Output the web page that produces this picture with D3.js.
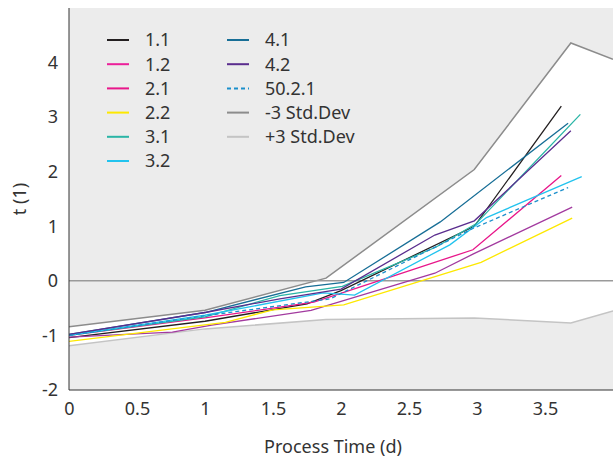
<!DOCTYPE html>
<html>
<head>
<meta charset="utf-8">
<script src="https://cdn.jsdelivr.net/npm/d3@7"></script>
<style>
  html, body { margin: 0; padding: 0; background: #fff; }
  svg text { font-family: "Noto Sans", sans-serif; fill: #333; }
</style>
</head>
<body>
<svg id="chart" width="613" height="460"></svg>
<script>
// ---- data ----
const seriesNames = ["1.1", "1.2", "2.1", "2.2", "3.1", "3.2", "4.1", "4.2", "50.2.1"];
const seriesX = [
  [0, 1, 1.75, 2.0, 2.98, 3.62],
  [0, 0.76, 1.05, 1.78, 2.69, 2.97, 3.70],
  [0, 1, 1.8, 2.02, 2.97, 3.62],
  [0, 1.15, 1.5, 2.02, 3.03, 3.70],
  [0, 1, 1.55, 2.01, 2.7, 2.99, 3.76],
  [0, 1, 1.87, 2.1, 2.8, 3.07, 3.77],
  [0, 1, 1.74, 2.02, 2.73, 3.67],
  [0, 1, 1.55, 2.0, 2.69, 2.98, 3.69],
  [0, 1, 1.92, 2.97, 3.67]
];
const seriesT = [
  [-1.04, -0.74, -0.42, -0.18, 1.00, 3.20],
  [-1.03, -0.94, -0.81, -0.54, 0.14, 0.49, 1.35],
  [-1.00, -0.68, -0.39, -0.21, 0.57, 1.93],
  [-1.11, -0.76, -0.53, -0.44, 0.34, 1.15],
  [-1.00, -0.66, -0.27, -0.10, 0.62, 1.04, 3.05],
  [-1.00, -0.63, -0.22, -0.26, 0.66, 1.16, 1.91],
  [-0.98, -0.58, -0.11, -0.03, 1.08, 2.89],
  [-0.98, -0.58, -0.33, -0.15, 0.84, 1.10, 2.75],
  [-1.00, -0.64, -0.33, 0.96, 1.71]
];
const stdX = [0, 1, 1.89, 2.98, 3.69, 4.0];
const stdMinus3 = [-0.84, -0.54, 0.05, 2.04, 4.36, 4.06];
const stdPlus3 = [-1.19, -0.88, -0.71, -0.68, -0.77, -0.55];
const xTicks = [0, 0.5, 1, 1.5, 2, 2.5, 3, 3.5];
const yTicks = [-2, -1, 0, 1, 2, 3, 4];
const legendNames = ["1.1", "1.2", "2.1", "2.2", "3.1", "3.2", "4.1", "4.2", "50.2.1", "-3 Std.Dev", "+3 Std.Dev"];

// ---- styles ----
const lineColors = ["#231f20", "#a23a9f", "#e8168a", "#fde800", "#2ab5a6", "#22c3ee", "#176e96", "#5a2d8e", "#1b8fcb"];
const legendColors = ["#231f20", "#ec1f9a", "#e8168a", "#fde800", "#2ab5a6", "#22c3ee", "#176e96", "#5a2d8e", "#1b8fcb", "#8c8c8c", "#c4c4c4"];

const svg = d3.select("#chart");
const L = 69, R = 613, T = 8, B = 390;
const FS = 18;
const x = d3.scaleLinear().domain([0, 4]).range([L, R]);
const y = d3.scaleLinear().domain([-2, 5]).range([B, T]);

const defs = svg.append("defs");
defs.append("clipPath").attr("id", "clip").append("rect")
  .attr("x", L).attr("y", T).attr("width", R - L).attr("height", B - T);

svg.append("rect").attr("x", L).attr("y", T).attr("width", R - L).attr("height", B - T).attr("fill", "#ececec");

const g = svg.append("g").attr("clip-path", "url(#clip)");

const stdData = stdX.map((v, i) => ({ x: v, hi: stdMinus3[i], lo: stdPlus3[i] }));
g.append("path").datum(stdData)
  .attr("fill", "#ffffff")
  .attr("d", d3.area().x(d => x(d.x)).y0(d => y(d.lo)).y1(d => y(d.hi)));

g.append("path").datum(stdData).attr("fill", "none").attr("stroke", "#8c8c8c").attr("stroke-width", 1.5)
  .attr("d", d3.line().x(d => x(d.x)).y(d => y(d.hi)));
g.append("path").datum(stdData).attr("fill", "none").attr("stroke", "#c4c4c4").attr("stroke-width", 1.5)
  .attr("d", d3.line().x(d => x(d.x)).y(d => y(d.lo)));

g.append("line").attr("x1", x(0)).attr("x2", x(4)).attr("y1", y(0)).attr("y2", y(0))
  .attr("stroke", "#9a9a9a").attr("stroke-width", 1.5);

const line = d3.line().x(d => x(d[0])).y(d => y(d[1]));
seriesNames.forEach((name, i) => {
  const pts = seriesX[i].map((v, j) => [v, seriesT[i][j]]);
  g.append("path").datum(pts)
    .attr("fill", "none")
    .attr("stroke", lineColors[i])
    .attr("stroke-width", 1.3)
    .attr("stroke-dasharray", name === "50.2.1" ? "4,3" : null)
    .attr("d", line);
});

// axes
const xAxis = svg.append("g").attr("transform", `translate(0,${B})`)
  .call(d3.axisBottom(x).tickValues(xTicks).tickSize(0).tickPadding(12).tickFormat(d => String(d)));
xAxis.select(".domain").attr("stroke", "#333").attr("d", `M${L},0H${R}`);
xAxis.selectAll("text").attr("font-size", FS).attr("fill", "#333").style("font-family", "Noto Sans");

const yAxis = svg.append("g").attr("transform", `translate(${L},0)`)
  .call(d3.axisLeft(y).tickValues(yTicks).tickSize(0).tickPadding(11).tickFormat(d => String(d)));
yAxis.select(".domain").attr("stroke", "#333").attr("d", `M0,${T}V${B}`);
yAxis.selectAll("text").attr("font-size", FS).attr("fill", "#333").style("font-family", "Noto Sans");

svg.append("text").attr("x", 333).attr("y", 453).attr("text-anchor", "middle")
  .attr("font-size", FS).text("Process Time (d)");
svg.append("text").attr("transform", `translate(26,${(T + B) / 2}) rotate(-90)`).attr("text-anchor", "middle")
  .attr("font-size", FS).text("t (1)");

// legend
const leg = svg.append("g");
legendNames.forEach((name, i) => {
  const col = i < 6 ? 0 : 1;
  const row = i < 6 ? i : i - 6;
  const lx = col === 0 ? 107 : 227;
  const ly = 40 + row * 24.2;
  leg.append("line").attr("x1", lx).attr("x2", lx + 22).attr("y1", ly).attr("y2", ly)
    .attr("stroke", legendColors[i]).attr("stroke-width", 2)
    .attr("stroke-dasharray", name === "50.2.1" ? "4,3" : null);
  leg.append("text").attr("x", lx + 38).attr("y", ly).attr("dy", "0.36em")
    .attr("font-size", FS).text(name);
});
</script>
</body>
</html>
